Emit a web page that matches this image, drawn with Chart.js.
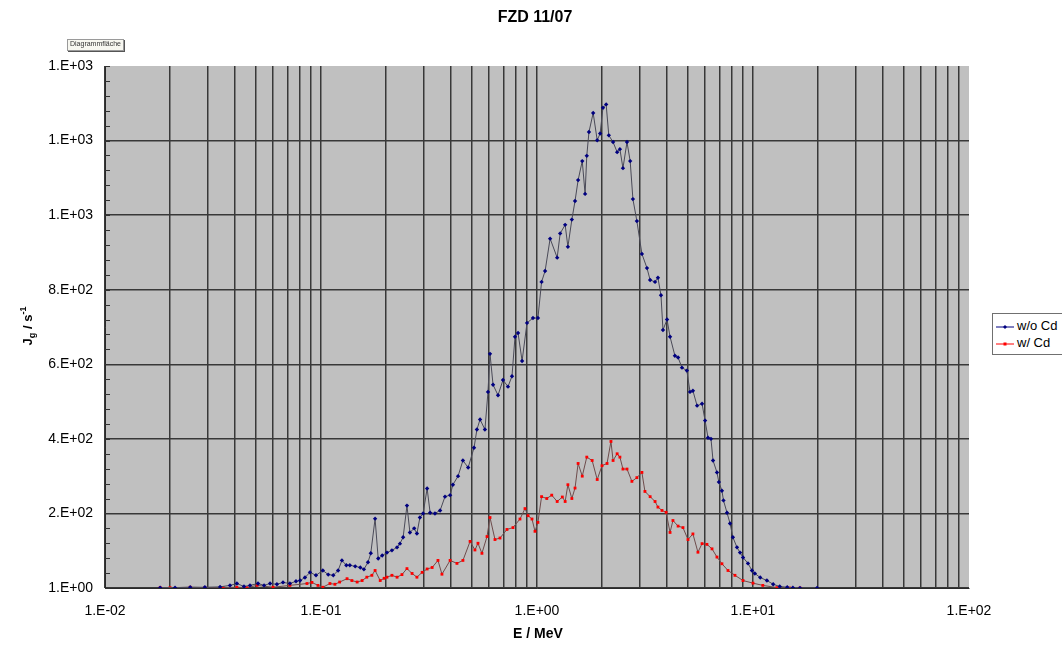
<!DOCTYPE html>
<html>
<head>
<meta charset="utf-8">
<title>FZD 11/07</title>
<script src="https://cdn.jsdelivr.net/npm/chart.js@4.4.1/dist/chart.umd.min.js"></script>
<style>
    html, body { margin: 0; padding: 0; background: #fff; }
    #wrap { position: relative; width: 1062px; height: 645px; overflow: hidden; }
    #legend {
        position: absolute; left: 992px; top: 313px; width: 84px; height: 40px;
        border: 1px solid #707070; background: #fff;
        font: 13px "Liberation Sans", Arial, sans-serif; color: #000;
    }
    #legend .row { position: absolute; left: 3px; height: 16px; line-height: 16px; white-space: nowrap; }
    #legend svg { vertical-align: middle; margin-right: 3px; }
    #hint {
        position: absolute; left: 67px; top: 39px; padding: 0 2px; height: 10px; line-height: 10px;
        font: 7px "Liberation Sans", Arial, sans-serif; color: #333;
        background: #f7f7f0; border: 1px solid #9a9a9a; box-shadow: 1px 1px 0 #555;
    }
</style>
</head>
<body>
<div id="wrap">
    <canvas id="spectrum" width="1062" height="645"></canvas>
    <div id="legend"></div>
    <div id="hint">Diagrammfläche</div>
</div>
<script>
/*
 * Gamma-Spektrum FZD 11/07: Messung ohne und mit Cd-Abschirmung
 * log. Energieachse, lineare Zaehlratenachse
 */

const chartTitle = 'FZD 11/07';
const xTitle = 'E / MeV';

// Messung ohne Cd: Energie in MeV, Zaehlrate in 1/s
const energyNoCd = [
    0.0180, 0.0211, 0.0248, 0.0290, 0.0341, 0.0379, 0.0408, 0.0440, 0.0469, 0.0511,
    0.0545, 0.0581, 0.0625, 0.0667, 0.0718, 0.0766, 0.0800, 0.0843, 0.0889, 0.0948,
    0.102, 0.108, 0.114, 0.120, 0.125, 0.131, 0.136, 0.144, 0.152, 0.158,
    0.165, 0.170, 0.178, 0.184, 0.192, 0.202, 0.213, 0.225, 0.232, 0.240,
    0.250, 0.258, 0.270, 0.278, 0.287, 0.297, 0.310, 0.320, 0.337, 0.356,
    0.375, 0.396, 0.408, 0.431, 0.454, 0.480, 0.511, 0.527, 0.545, 0.574,
    0.593, 0.606, 0.626, 0.660, 0.696, 0.734, 0.766, 0.791, 0.817, 0.853,
    0.899, 0.958, 1.01, 1.05, 1.09, 1.15, 1.24, 1.28, 1.35, 1.39,
    1.45, 1.50, 1.55, 1.62, 1.67, 1.70, 1.74, 1.82, 1.90, 1.96,
    2.02, 2.09, 2.15, 2.25, 2.35, 2.42, 2.50, 2.61, 2.70, 2.78,
    2.90, 3.06, 3.23, 3.34, 3.52, 3.63, 3.75, 3.83, 4.00, 4.13,
    4.35, 4.50, 4.69, 4.94, 5.11, 5.27, 5.51, 5.81, 6.00, 6.19,
    6.39, 6.53, 6.81, 6.95, 7.18, 7.30, 7.58, 7.83, 8.07, 8.43,
    8.71, 8.99, 9.48, 9.89, 10.2, 10.8, 11.6, 12.4, 13.3, 14.4,
    15.3, 16.5, 19.8
];
const rateNoCd = [
    2, 2, 3, 3, 4, 8, 13, 5, 8, 13,
    8, 13, 11, 16, 13, 19, 21, 29, 43, 35,
    48, 37, 35, 48, 75, 62, 62, 59, 56, 51,
    70, 94, 187, 80, 88, 96, 102, 110, 120, 137,
    222, 150, 161, 147, 190, 201, 268, 203, 201, 209,
    246, 250, 278, 301, 343, 324, 377, 426, 453, 426,
    527, 629, 546, 518, 559, 541, 569, 675, 685, 610,
    712, 725, 725, 822, 851, 938, 887, 952, 975, 916,
    989, 1039, 1095, 1146, 1058, 1160, 1224, 1275, 1202, 1220,
    1289, 1298, 1215, 1197, 1170, 1178, 1127, 1197, 1146, 1044,
    985, 897, 859, 827, 822, 833, 786, 693, 721, 675,
    624, 619, 592, 584, 527, 530, 490, 495, 450, 404,
    401, 343, 311, 285, 262, 236, 203, 174, 137, 110,
    96, 83, 67, 48, 40, 29, 21, 11, 5, 3,
    2, 1, 1
];

// Messung mit Cd
const energyCd = [
    0.0180, 0.0200, 0.0248, 0.0290, 0.0352, 0.0408, 0.0454, 0.0506, 0.0600, 0.0718,
    0.0861, 0.0908, 0.0968, 0.102, 0.110, 0.116, 0.122, 0.132, 0.139, 0.147,
    0.155, 0.163, 0.172, 0.178, 0.188, 0.196, 0.202, 0.213, 0.225, 0.237,
    0.250, 0.264, 0.278, 0.294, 0.310, 0.327, 0.348, 0.363, 0.396, 0.426,
    0.454, 0.490, 0.516, 0.533, 0.556, 0.587, 0.606, 0.639, 0.674, 0.726,
    0.774, 0.834, 0.880, 0.909, 0.948, 0.979, 1.01, 1.05, 1.11, 1.17,
    1.24, 1.31, 1.35, 1.39, 1.45, 1.50, 1.55, 1.62, 1.70, 1.80,
    1.90, 2.00, 2.11, 2.20, 2.25, 2.35, 2.42, 2.50, 2.61, 2.75,
    2.90, 3.06, 3.16, 3.34, 3.52, 3.63, 3.79, 3.96, 4.13, 4.26,
    4.50, 4.74, 5.00, 5.27, 5.56, 5.81, 6.12, 6.46, 6.81, 7.18,
    7.66, 8.25, 8.99, 10.0, 11.1, 12.9, 14.8, 16.5
];
const rateCd = [
    2, 2, 3, 2, 2, 3, 2, 8, 3, 8,
    13, 16, 8, 3, 13, 11, 17, 26, 21, 17,
    21, 30, 35, 48, 21, 27, 30, 35, 30, 37,
    53, 40, 30, 43, 52, 56, 75, 38, 75, 67,
    75, 126, 103, 121, 94, 139, 190, 131, 135, 158,
    163, 186, 214, 195, 186, 153, 177, 246, 241, 250,
    233, 245, 233, 278, 241, 269, 335, 301, 352, 343,
    292, 329, 335, 394, 343, 361, 352, 320, 320, 287,
    297, 311, 260, 246, 233, 218, 209, 204, 150, 182,
    167, 163, 131, 146, 97, 120, 118, 106, 84, 66,
    48, 35, 21, 14, 8, 2, 1, 1
];

// Achsenteilung
const xDecades = [0.01, 0.1, 1, 10];
const xLabelValues = [0.01, 0.1, 1, 10, 100];
const xLabelTexts = ['1.E-02', '1.E-01', '1.E+00', '1.E+01', '1.E+02'];
const yTickValues = [1, 201, 401, 601, 801, 1001, 1201, 1401];
const yTickTexts = ['1.E+00', '2.E+02', '4.E+02', '6.E+02', '8.E+02', '1.E+03', '1.E+03', '1.E+03'];
const yMinorStep = 40;

const series = [
    { label: 'w/o Cd', color: '#000080', line: '#4a4a58', style: 'rectRot', radius: 2.2, x: energyNoCd, y: rateNoCd },
    { label: 'w/ Cd', color: '#ff0000', line: '#6e4c4c', style: 'rect', radius: 2.0, x: energyCd, y: rateCd }
];

const FONT = '"Liberation Sans", Arial, sans-serif';

// Gitterlinien bei 1..9 je Dekade
const xGridValues = [];
xDecades.forEach(d => {
    for (let m = 1; m <= 9; m++) xGridValues.push(+(m * d).toPrecision(3));
});
xGridValues.push(100);

const xLabelFor = function (v) {
    const i = xLabelValues.findIndex(l => Math.abs(l - v) / l < 1e-6);
    return i < 0 ? '' : xLabelTexts[i];
};

/*
 * Hintergrund der Zeichenflaeche
 */
const plotArea = {
    id: 'plotArea',
    beforeDraw(chart) {
        const { ctx, chartArea: a } = chart;
        ctx.save();
        ctx.fillStyle = '#c0c0c0';
        ctx.fillRect(a.left, a.top, a.right - a.left, a.bottom - a.top);
        ctx.restore();
    }
};

/*
 * kleine Teilstriche an der y-Achse, Titel und Achsenbeschriftungen
 */
const annotations = {
    id: 'annotations',
    afterDraw(chart) {
        const { ctx, chartArea: a } = chart;
        const ys = chart.scales.y;
        ctx.save();
        ctx.strokeStyle = '#333';
        ctx.lineWidth = 1;
        ctx.beginPath();
        for (let v = yTickValues[0]; v <= yTickValues[yTickValues.length - 1]; v += yMinorStep) {
            const py = Math.round(ys.getPixelForValue(v)) + 0.5;
            ctx.moveTo(a.left, py);
            ctx.lineTo(a.left + 5, py);
        }
        ctx.stroke();

        ctx.fillStyle = '#000';
        ctx.textAlign = 'center';
        ctx.textBaseline = 'middle';
        ctx.font = 'bold 16px ' + FONT;
        ctx.fillText(chartTitle, 535, 18);
        ctx.font = 'bold 14px ' + FONT;
        ctx.fillText(xTitle, 538, 634);

        // J_g / s^-1, gedreht
        const parts = [
            { t: 'J', size: 13, dy: 0 },
            { t: 'g', size: 9, dy: 3 },
            { t: ' / s', size: 13, dy: 0 },
            { t: '-1', size: 9, dy: -6 }
        ];
        let total = 0;
        parts.forEach(p => {
            ctx.font = 'bold ' + p.size + 'px ' + FONT;
            p.w = ctx.measureText(p.t).width;
            total += p.w;
        });
        ctx.translate(32, 326);
        ctx.rotate(-Math.PI / 2);
        ctx.textAlign = 'left';
        ctx.textBaseline = 'alphabetic';
        let u = -total / 2;
        parts.forEach(p => {
            ctx.font = 'bold ' + p.size + 'px ' + FONT;
            ctx.fillText(p.t, u, p.dy);
            u += p.w;
        });
        ctx.restore();
    }
};

document.addEventListener('DOMContentLoaded', function () {
    const ctx = document.getElementById('spectrum').getContext('2d');

    new Chart(ctx, {
        type: 'line',
        data: {
            datasets: series.map(s => ({
                label: s.label,
                data: s.x.map((e, i) => ({ x: e, y: s.y[i] })),
                borderColor: s.line,
                borderWidth: 1,
                pointStyle: s.style,
                pointRadius: s.radius,
                pointBackgroundColor: s.color,
                pointBorderColor: s.color,
                pointBorderWidth: 0,
                tension: 0,
                fill: false
            }))
        },
        options: {
            responsive: false,
            animation: false,
            layout: { padding: { left: 0, right: 93, top: 66, bottom: 0 } },
            plugins: {
                legend: { display: false },
                tooltip: { enabled: false },
                title: { display: false }
            },
            scales: {
                x: {
                    type: 'logarithmic',
                    min: 0.01,
                    max: 100,
                    afterBuildTicks: s => { s.ticks = xGridValues.map(v => ({ value: v })); },
                    afterFit: s => { s.height = 57; },
                    grid: {
                        drawTicks: false,
                        lineWidth: 1.5,
                        color: c => (c.tick && c.tick.value >= 100 ? 'rgba(0,0,0,0)' : '#383838')
                    },
                    border: { display: true, color: '#2a2a2a' },
                    ticks: {
                        autoSkip: false,
                        maxRotation: 0,
                        padding: 15,
                        color: '#000',
                        font: { family: FONT, size: 14 },
                        callback: v => xLabelFor(v)
                    }
                },
                y: {
                    type: 'linear',
                    min: yTickValues[0],
                    max: yTickValues[yTickValues.length - 1],
                    afterBuildTicks: s => { s.ticks = yTickValues.map(v => ({ value: v })); },
                    afterFit: s => { s.width = 105; },
                    grid: {
                        drawTicks: false,
                        lineWidth: 1.5,
                        color: c => (c.tick && c.tick.value >= 1401 ? 'rgba(0,0,0,0)' : '#383838')
                    },
                    border: { display: true, color: '#2a2a2a' },
                    ticks: {
                        padding: 12,
                        color: '#000',
                        font: { family: FONT, size: 14 },
                        callback: (v, i) => yTickTexts[i]
                    }
                }
            }
        },
        plugins: [plotArea, annotations]
    });

    // Legende rechts neben dem Diagramm
    const legend = document.getElementById('legend');
    series.forEach((s, i) => {
        const row = document.createElement('div');
        row.className = 'row';
        row.style.top = (4 + i * 17) + 'px';
        const mark = s.style === 'rectRot'
            ? '<polygon points="9,2 11,4 9,6 7,4" fill="' + s.color + '"/>'
            : '<rect x="7.5" y="2.5" width="3" height="3" fill="' + s.color + '"/>';
        row.innerHTML = '<svg width="18" height="8"><line x1="0" y1="4" x2="18" y2="4" stroke="' +
            s.color + '" stroke-width="1"/>' + mark + '</svg>' + s.label;
        legend.appendChild(row);
    });
});
</script>
</body>
</html>
